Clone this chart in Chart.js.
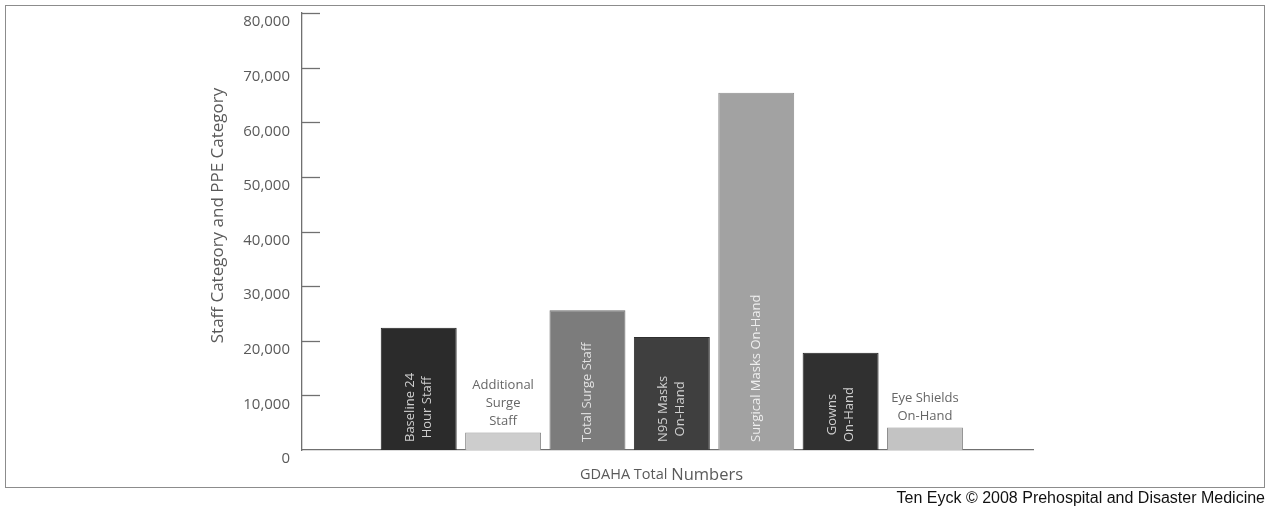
<!DOCTYPE html>
<html>
<head>
<meta charset="utf-8">
<script src="https://cdn.jsdelivr.net/npm/chart.js@4.4.1/dist/chart.umd.min.js"></script>
<style>
  html, body { margin: 0; padding: 0; background: #fff; }
  #wrap { position: relative; width: 1269px; height: 509px; }
  #frame {
    position: absolute; left: 5px; top: 5px; width: 1260px; height: 483px;
    box-sizing: border-box; border: 1.5px solid #8c8c8c; pointer-events: none;
  }
  #credit {
    position: absolute; right: 4px; top: 489px;
    font: 16px "Liberation Sans", Arial, sans-serif; color: #111; white-space: nowrap;
  }
</style>
</head>
<body>
<div id="wrap">
  <canvas id="chartCanvas" width="1269" height="509"></canvas>
  <div id="frame"></div>
  <div id="credit">Ten Eyck © 2008 Prehospital and Disaster Medicine</div>
</div>
<script>
// GDAHA staff and PPE totals
const categories = [
  ["Baseline 24", "Hour Staff"],
  ["Additional", "Surge", "Staff"],
  ["Total Surge Staff"],
  ["N95 Masks", "On-Hand"],
  ["Surgical Masks On-Hand"],
  ["Gowns", "On-Hand"],
  ["Eye Shields", "On-Hand"]
];
const totals = [22400, 3200, 25600, 20700, 65400, 17800, 4100];
const yTicks = [0, 10000, 20000, 30000, 40000, 50000, 60000, 70000, 80000];
const yTitle = "Staff Category and PPE Category";
const xTitle = ["GDAHA Total ", "Numbers"];

const barFill = ["#2b2b2b", "#cdcdcd", "#7c7c7c", "#3f3f3f", "#a2a2a2", "#303030", "#c3c3c3"];
const barEdge = ["#1f1f1f", "#8e8e8e", "#6a6a6a", "#2f2f2f", "#8f8f8f", "#222222", "#8e8e8e"];
const labelInk = ["#cfcfcf", "#666666", "#e2e2e2", "#d0d0d0", "#eeeeee", "#cfcfcf", "#666666"];

const FONT = '"Open Sans", "DejaVu Sans", sans-serif';

// short tick marks pointing into the plot from the y axis
const innerTicks = {
  id: "innerTicks",
  afterDraw(chart) {
    const {ctx, chartArea, scales} = chart;
    const y = scales.y;
    ctx.save();
    ctx.strokeStyle = "#707070";
    ctx.lineWidth = 1.3;
    y.ticks.forEach(t => {
      if (t.value === 0) return;
      const py = Math.round(y.getPixelForValue(t.value)) + 0.5;
      ctx.beginPath();
      ctx.moveTo(chartArea.left, py);
      ctx.lineTo(chartArea.left + 18, py);
      ctx.stroke();
    });
    ctx.restore();
  }
};

// category names: rotated inside tall bars, stacked above short ones
const barLabels = {
  id: "barLabels",
  afterDatasetsDraw(chart) {
    const {ctx} = chart;
    const meta = chart.getDatasetMeta(0);
    ctx.save();
    ctx.font = "13px " + FONT;
    meta.data.forEach((bar, i) => {
      const lines = categories[i];
      const widest = Math.max(...lines.map(l => ctx.measureText(l).width));
      const room = bar.base - bar.y;
      ctx.fillStyle = labelInk[i];
      ctx.textAlign = "center";
      ctx.textBaseline = "middle";
      if (widest + 16 < room) {
        ctx.save();
        ctx.translate(bar.x, bar.base - 8 - widest / 2);
        ctx.rotate(-Math.PI / 2);
        lines.forEach((l, k) => ctx.fillText(l, 0, (k - (lines.length - 1) / 2) * 17));
        ctx.restore();
      } else {
        lines.forEach((l, k) => ctx.fillText(l, bar.x, bar.y - 11 - (lines.length - 1 - k) * 18));
      }
    });
    ctx.restore();
  }
};

// axis titles
const axisTitles = {
  id: "axisTitles",
  afterDraw(chart) {
    const {ctx, chartArea} = chart;
    ctx.save();
    ctx.fillStyle = "#5a5a5a";
    ctx.textBaseline = "middle";

    ctx.save();
    ctx.translate(218, chartArea.top + (chartArea.bottom - chartArea.top) / 2 - 16);
    ctx.rotate(-Math.PI / 2);
    ctx.font = "17px " + FONT;
    ctx.textAlign = "center";
    ctx.fillText(yTitle, 0, 0);
    ctx.restore();

    const fonts = ["14.5px " + FONT, "16.5px " + FONT];
    const widths = xTitle.map((s, k) => { ctx.font = fonts[k]; return ctx.measureText(s).width; });
    let x = (chartArea.left + chartArea.right) / 2 - 6 - (widths[0] + widths[1]) / 2;
    ctx.textAlign = "left";
    xTitle.forEach((s, k) => {
      ctx.font = fonts[k];
      ctx.fillText(s, x, chartArea.bottom + 25);
      x += widths[k];
    });
    ctx.restore();
  }
};

const ctx = document.getElementById("chartCanvas").getContext("2d");

new Chart(ctx, {
  type: "bar",
  data: {
    datasets: [
      {
        label: "GDAHA Total Numbers",
        data: categories.map((c, i) => ({x: i, y: totals[i]})),
        backgroundColor: barFill,
        borderColor: barEdge,
        borderWidth: 1,
        borderSkipped: "bottom",
        categoryPercentage: 1,
        barPercentage: 0.9,
      },
    ],
  },
  options: {
    responsive: false,
    animation: false,
    layout: {
      padding: { left: 0, right: 236, top: 13, bottom: 59 },
    },
    plugins: {
      legend: { display: false },
      tooltip: { enabled: false },
      title: { display: false },
    },
    scales: {
      x: {
        type: "linear",
        offset: false,
        min: -1.383,
        max: 7.28,
        ticks: { display: false },
        grid: { display: false, drawTicks: false },
        border: { display: true, color: "#707070", width: 1.3 },
        afterFit: s => { s.height = 0; s.paddingLeft = 0; s.paddingRight = 0; },
      },
      y: {
        min: 0,
        max: 80000,
        afterBuildTicks: s => { s.ticks = yTicks.map(v => ({value: v})); },
        ticks: {
          color: "#5a5a5a",
          font: { family: FONT, size: 15 },
          padding: 12,
          labelOffset: 9,
          callback: v => v.toLocaleString("en-US"),
        },
        grid: { display: false, drawTicks: false },
        border: { display: true, color: "#707070", width: 1.3 },
        afterFit: s => { s.width = 302; s.paddingTop = 0; s.paddingBottom = 0; },
      },
    },
  },
  plugins: [innerTicks, barLabels, axisTitles],
});
</script>
</body>
</html>
